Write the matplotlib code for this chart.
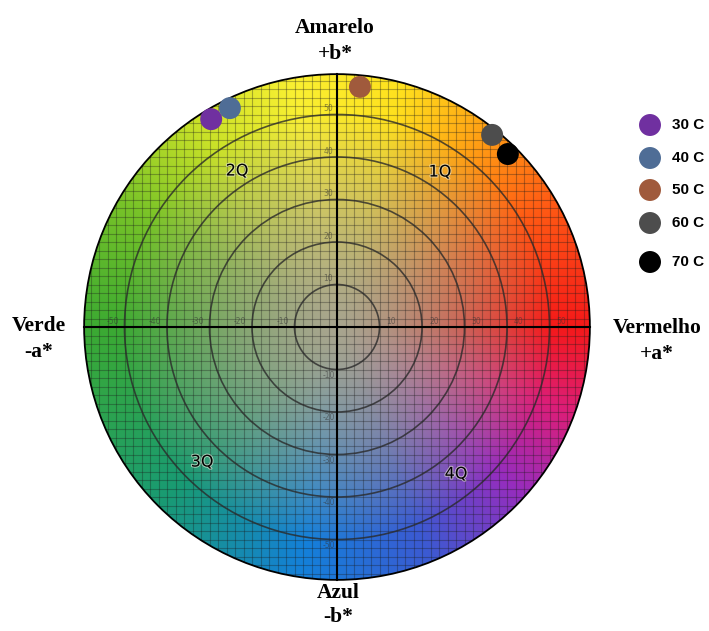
import numpy as np
import matplotlib.pyplot as plt
from matplotlib.patches import Circle
import matplotlib.patheffects as pe

# CIELab a*/b* readings per drying temperature
temperatures = ['30 C', '40 C', '50 C', '60 C', '70 C']
a_star = [-29.6, -25.2, 5.4, 36.5, 40.2]
b_star = [48.9, 51.5, 56.5, 45.2, 40.7]
point_colors = ['#7030a0', '#4f6d96', '#a05a3c', '#4d4d4d', '#000000']

ring_values = [10, 20, 30, 40, 50]
tick_values = [-50, -40, -30, -20, -10, 10, 20, 30, 40, 50]
quadrants = ['1Q', '2Q', '3Q', '4Q']

R = 59.5          # radius of the colour disc
PX = 4.25         # pixels per Lab unit
CX, CY = 337, 327  # disc centre in pixels
W, H = 709, 631


def px(x, y):
    # pixel position -> data coordinates
    return (x - CX) / PX, (CY - y) / PX


fig = plt.figure(figsize=(W / 100, H / 100), dpi=100)
ax = fig.add_axes([0, 0, 1, 1])
ax.set_xlim(-CX / PX, (W - CX) / PX)
ax.set_ylim(-(H - CY) / PX, CY / PX)
ax.set_aspect('equal')
ax.axis('off')

# hue wheel: edge colour by angle, fading to grey in the middle
ang_anchor = [0, 30, 55, 75, 100, 125, 150, 180, 225, 262, 292, 318, 340, 360]
rgb_anchor = np.array([
    [245, 25, 25], [255, 90, 20], [255, 165, 20], [255, 225, 30],
    [250, 240, 50], [200, 225, 40], [120, 195, 40], [60, 170, 50],
    [25, 155, 115], [20, 128, 218], [60, 90, 210], [150, 45, 190],
    [220, 30, 120], [245, 25, 25]]) / 255
centre_rgb = np.array([168, 165, 142]) / 255

n = 700
g = np.linspace(-R, R, n)
A, B = np.meshgrid(g, g)
r = np.hypot(A, B) / R
theta = np.degrees(np.arctan2(B, A)) % 360
edge = np.stack([np.interp(theta, ang_anchor, rgb_anchor[:, k]) for k in range(3)], axis=-1)
w = np.clip(r / 0.85, 0, 1) ** 1.4
w = w[..., None]
img = np.clip(centre_rgb * (1 - w) + edge * w, 0, 1)

disc = Circle((0, 0), R, transform=ax.transData, facecolor='none')
im = ax.imshow(img, extent=(-R, R, -R, R), origin='lower', zorder=1, interpolation='bilinear')
im.set_clip_path(disc)

# fine 2-unit grid over the disc
for v in np.arange(-58, 59, 2):
    for ln in (ax.plot([v, v], [-R, R], color='#1a1a1a', lw=0.8, alpha=0.33, zorder=2)[0],
               ax.plot([-R, R], [v, v], color='#1a1a1a', lw=0.8, alpha=0.33, zorder=2)[0]):
        ln.set_clip_path(disc)

# concentric chroma rings and axes
for rv in ring_values:
    ax.add_patch(Circle((0, 0), rv, fill=False, ec='#2a2a2a', lw=1.2, alpha=0.8, zorder=3))
ax.add_patch(Circle((0, 0), R, fill=False, ec='black', lw=1.3, zorder=4))
ax.plot([-R, R], [0, 0], color='black', lw=1.5, zorder=3)
ax.plot([0, 0], [-R, R], color='black', lw=1.5, zorder=3)

# faint scale numbers along both axes
for v in tick_values:
    s = np.sign(v)
    ax.text(v + s * 2.8, 1.3, str(v), fontsize=5.5, color='#333333', alpha=0.55,
            ha='center', va='center', zorder=3)
    ax.text(-2.0, v + s * 1.3, str(v), fontsize=5.5, color='#333333', alpha=0.55,
            ha='center', va='center', zorder=3)

# quadrant names
quad_px = [(440, 172), (237, 171), (202, 462), (456, 474)]
for q, (qx, qy) in zip(quadrants, quad_px):
    tx, ty = px(qx, qy)
    ax.text(tx, ty, q, fontsize=11.5, color='black', ha='center', va='center', zorder=5,
            path_effects=[pe.withStroke(linewidth=1.5, foreground='#f0f0e0', alpha=0.6)])

# axis captions
serif = dict(family='Liberation Serif', weight='bold', fontsize=15.5, ha='center', va='center',
             linespacing=1.45)
ax.text(*px(335, 41), 'Amarelo\n+b*', **serif)
ax.text(*px(39, 339), 'Verde\n-a*', **serif)
ax.text(*px(657, 341), 'Vermelho\n+a*', **serif)
ax.text(*px(338, 605), 'Azul\n-b*', **dict(serif, linespacing=1.3))

# measured points
ax.scatter(a_star, b_star, s=250, c=point_colors, edgecolors='none', zorder=6)

# legend
leg_y = [125, 158, 190, 223, 262]
for lab, col, ly in zip(temperatures, point_colors, leg_y):
    ax.scatter(*px(650, ly), s=250, color=col, edgecolors='none', zorder=6, clip_on=False)
    ax.text(*px(672, ly), lab, family='Liberation Sans', weight='bold', fontsize=11,
            ha='left', va='center')

fig.savefig('out.png', dpi=100)
